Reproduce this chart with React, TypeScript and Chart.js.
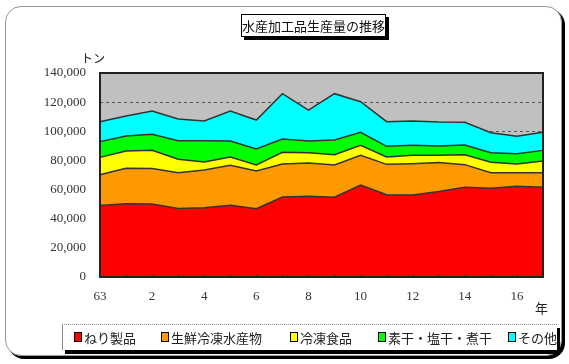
import React, { useEffect, useRef } from "react";
import { Chart, registerables } from "chart.js";

Chart.register(...registerables);

const years = ["63", "1", "2", "3", "4", "5", "6", "7", "8", "9", "10", "11", "12", "13", "14", "15", "16", "17"];

const seriesNames = ["ねり製品", "生鮮冷凍水産物", "冷凍食品", "素干・塩干・煮干", "その他"];

const neri = [49000, 50300, 50100, 47000, 47600, 49200, 46900, 54900, 55400, 54700, 63100, 56400, 56300, 58600, 61600, 60900, 62200, 61600];
const seisen = [21200, 24300, 24300, 24600, 25800, 27400, 25900, 22700, 22800, 22200, 20400, 20900, 21500, 19900, 15500, 10700, 9400, 10000];
const reitou = [11900, 11900, 12500, 9200, 5500, 5800, 4100, 8000, 7100, 7000, 6900, 5100, 5700, 5000, 6800, 7100, 6000, 8000];
const suboshi = [10800, 10300, 11000, 12700, 14600, 10900, 10900, 9100, 8000, 10100, 8900, 7300, 6900, 6400, 6700, 6600, 7000, 7300];
const sonota = [13700, 13700, 16000, 14900, 13600, 20600, 19900, 31100, 21300, 31800, 21000, 16900, 16700, 16500, 15600, 13700, 12000, 12400];

const seriesValues = [neri, seisen, reitou, suboshi, sonota];
const seriesColors = ["#FF0000", "#FF9900", "#FFFF00", "#00FF00", "#00FFFF"];

const yMin = 0;
const yMax = 140000;
const yStep = 20000;

const legendLeft = [74, 161, 290, 378, 508];

const JP = "'Noto Sans CJK JP', 'Noto Sans', sans-serif";
const SERIF = "'Liberation Serif', 'DejaVu Serif', serif";

export default function App() {
  const ref = useRef<HTMLCanvasElement>(null);

  useEffect(() => {
    const canvas = ref.current;
    if (!canvas) return;

    const plotPlugin = {
      id: "plotDecor",
      beforeDraw(chart: any) {
        const { ctx, chartArea } = chart;
        ctx.save();
        ctx.fillStyle = "#C0C0C0";
        ctx.fillRect(chartArea.left, chartArea.top, chartArea.right - chartArea.left, chartArea.bottom - chartArea.top);
        ctx.restore();
      },
      afterDatasetsDraw(chart: any) {
        const { ctx, chartArea } = chart;
        const xs = chart.scales.x;
        ctx.save();
        ctx.strokeStyle = "#333";
        ctx.lineWidth = 1;
        for (let i = 1; i < years.length - 1; i++) {
          const px = Math.round(xs.getPixelForValue(i)) + 0.5;
          ctx.beginPath();
          ctx.moveTo(px, chartArea.bottom);
          ctx.lineTo(px, chartArea.bottom - 3);
          ctx.stroke();
        }
        ctx.strokeStyle = "#222";
        ctx.lineWidth = 2;
        ctx.strokeRect(chartArea.left, chartArea.top, chartArea.right - chartArea.left, chartArea.bottom - chartArea.top);
        ctx.restore();
      },
    };

    const chart = new Chart(canvas, {
      type: "line",
      data: {
        labels: years,
        datasets: seriesValues.map((vals, i) => ({
          label: seriesNames[i],
          data: vals,
          backgroundColor: seriesColors[i],
          borderColor: "#333",
          borderWidth: 1.5,
          pointRadius: 0,
          tension: 0,
          fill: i === 0 ? "origin" : "-1",
        })),
      },
      options: {
        animation: false,
        responsive: false,
        maintainAspectRatio: false,
        layout: { padding: { top: 73, right: 26, left: 0, bottom: 0 } },
        plugins: {
          legend: { display: false },
          title: { display: false },
          tooltip: { enabled: false },
        },
        scales: {
          x: {
            type: "category",
            offset: false,
            grid: { display: false, drawTicks: false },
            border: { display: false },
            ticks: {
              autoSkip: false,
              maxRotation: 0,
              minRotation: 0,
              padding: 12,
              color: "#333",
              font: { family: SERIF, size: 13 },
              callback: (_v: any, i: number) => (i % 2 === 0 ? years[i] : ""),
            },
            afterFit: (scale: any) => {
              scale.height = 87;
            },
          },
          y: {
            stacked: true,
            min: yMin,
            max: yMax,
            grid: { color: "#555", lineWidth: 1, drawTicks: false },
            border: { display: false, dash: [3, 3] },
            ticks: {
              stepSize: yStep,
              padding: 14,
              color: "#333",
              font: { family: SERIF, size: 13 },
              callback: (v: any) => Number(v).toLocaleString("en-US"),
            },
            afterFit: (scale: any) => {
              scale.width = 100;
            },
          },
        },
      },
      plugins: [plotPlugin],
    } as any);

    return () => chart.destroy();
  }, []);

  return (
    <div style={{ position: "absolute", left: 0, top: 0, width: 569, height: 364, background: "#fff", overflow: "hidden" }}>
      <div
        style={{
          position: "absolute",
          left: 5,
          top: 6,
          width: 555,
          height: 348,
          border: "1px solid #999",
          borderRadius: 16,
          boxShadow: "3px 3px 0 #000",
          background: "#fff",
        }}
      />
      <canvas ref={ref} width={569} height={364} style={{ position: "absolute", left: 0, top: 0, width: 569, height: 364 }} />
      <div
        style={{
          position: "absolute",
          left: 241,
          top: 14,
          width: 143,
          height: 21,
          border: "1px solid #000",
          boxShadow: "3px 3px 0 #000",
          background: "#fff",
          fontFamily: JP,
          fontSize: 13,
          lineHeight: "21px",
          textAlign: "center",
          color: "#111",
          whiteSpace: "nowrap",
        }}
      >
        水産加工品生産量の推移
      </div>
      <div style={{ position: "absolute", left: 81, top: 51, fontFamily: JP, fontSize: 12, color: "#222", lineHeight: "14px" }}>トン</div>
      <div style={{ position: "absolute", left: 535, top: 300, fontFamily: JP, fontSize: 13, color: "#222", lineHeight: "16px" }}>年</div>
      <div
        style={{
          position: "absolute",
          left: 62,
          top: 324,
          width: 494,
          height: 25,
          borderTop: "1px dotted #888",
          borderLeft: "1px solid #888",
          boxShadow: "3px 4px 0 #000",
          background: "#fff",
        }}
      />
      {seriesNames.map((n, i) => (
        <div
          key={n}
          style={{
            position: "absolute",
            left: legendLeft[i],
            top: 329,
            height: 16,
            display: "flex",
            alignItems: "center",
            fontFamily: JP,
            fontSize: 13,
            color: "#222",
            whiteSpace: "nowrap",
          }}
        >
          <span style={{ display: "inline-block", width: 6, height: 8, border: "1px solid #000", background: seriesColors[i], marginRight: 2 }} />
          <span>{n}</span>
        </div>
      ))}
    </div>
  );
}
